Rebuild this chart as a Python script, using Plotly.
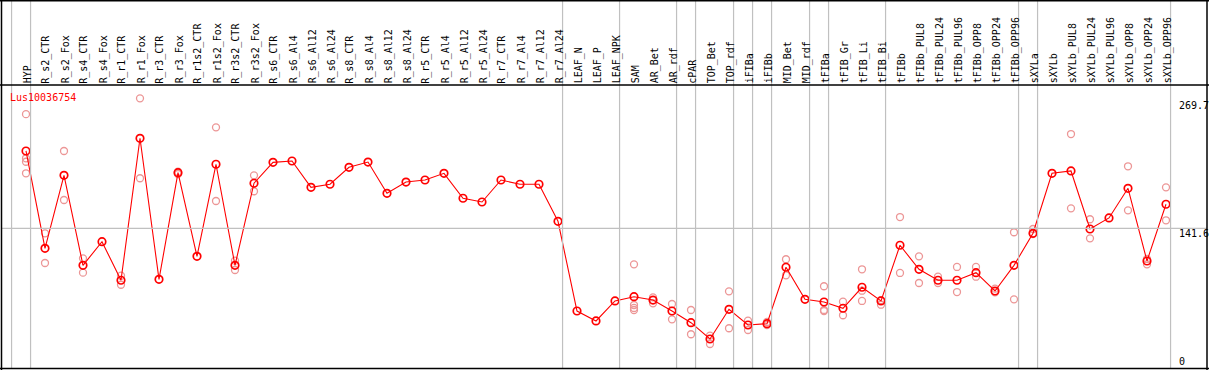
import plotly.graph_objects as go

W, H = 1209, 370

gene_id = "Lus10036754"

categories = [
    "HYP", "R_s2_CTR", "R_s2_Fox", "R_s4_CTR", "R_s4_Fox", "R_r1_CTR", "R_r1_Fox",
    "R_r3_CTR", "R_r3_Fox", "R_r1s2_CTR", "R_r1s2_Fox", "R_r3s2_CTR", "R_r3s2_Fox",
    "R_s6_CTR", "R_s6_Al4", "R_s6_Al12", "R_s6_Al24", "R_s8_CTR", "R_s8_Al4",
    "R_s8_Al12", "R_s8_Al24", "R_r5_CTR", "R_r5_Al4", "R_r5_Al12", "R_r5_Al24",
    "R_r7_CTR", "R_r7_Al4", "R_r7_Al12", "R_r7_Al24", "LEAF_N", "LEAF_P", "LEAF_NPK",
    "SAM", "AR_Bet", "AR_rdf", "cPAR", "TOP_Bet", "TOP_rdf", "iFIBa", "iFIBb",
    "MID_Bet", "MID_rdf", "tFIBa", "tFIB_Gr", "tFIB_Li", "tFIB_Bi", "tFIBb",
    "tFIBb_PUL8", "tFIBb_PUL24", "tFIBb_PUL96", "tFIBb_OPP8", "tFIBb_OPP24",
    "tFIBb_OPP96", "sXYLa", "sXYLb", "sXYLb_PUL8", "sXYLb_PUL24", "sXYLb_PUL96",
    "sXYLb_OPP8", "sXYLb_OPP24", "sXYLb_OPP96",
]

means = [
    217.8, 121.9, 193.8, 105.1, 128.4, 90.4, 230.3, 91.3, 196.4, 114.0, 204.7,
    105.1, 186.0, 206.6, 207.9, 182.0, 185.0, 201.7, 206.9, 176.1, 187.2, 189.2,
    195.8, 171.2, 167.5, 189.2, 185.0, 185.0, 148.5, 60.1, 50.3, 70.0, 74.2,
    70.9, 60.1, 48.6, 32.5, 61.8, 46.3, 47.6, 103.2, 71.6, 69.0, 62.8, 83.5,
    70.0, 124.9, 101.2, 90.4, 90.4, 97.9, 79.8, 105.1, 136.7, 195.8, 198.1,
    140.9, 151.8, 181.0, 109.4, 165.3,
]

replicates = [
    [254.1, 210.6, 207.2, 195.8], [136.7, 107.4], [217.8, 169.5], [112.0, 97.9],
    [], [94.9, 86.0], [269.7, 190.9], [], [197.4, 195.1], [], [241.1, 168.5],
    [109.7, 100.5], [193.8, 178.1], [], [], [], [], [], [], [], [], [], [], [],
    [], [], [], [], [], [], [], [], [106.1, 66.0, 63.1, 61.1], [73.6, 67.7],
    [67.0, 51.9], [61.1, 37.2], [35.8, 27.6], [79.5, 43.1], [50.6, 41.4],
    [49.3, 46.3], [111.1, 95.3], [], [84.5, 61.1, 60.1], [69.3, 55.9],
    [101.2, 80.1, 70.0], [70.9, 66.3], [152.7, 97.6], [114.0, 87.7], [93.9, 87.7],
    [103.5, 78.8], [103.5, 93.9], [82.1, 78.5], [137.7, 71.6], [140.9, 136.0],
    [], [234.5, 161.3], [150.5, 131.7], [], [202.7, 159.3], [111.4, 106.1],
    [182.0, 149.5],
]

ytick_vals = [269.7, 141.6, 0]
ytick_text = ["269.7", "141.6", "0"]
ref_line = 141.6
group_ends = [-1, 0, 28, 31, 34, 35, 37, 38, 39, 41, 42, 45, 52, 53, 60]

# ---- geometry (pixels) ----
PLOT_L, PLOT_R = 1.5, 1207.0
PLOT_T, PLOT_B = 85.0, 368.5
COL0, COLSTEP = 26.0, 19.0
Y0PX, YSCALE = 372.0, 1.0148


def px_x(p):
    return p / W


def px_y(p):
    return 1 - p / H


x_range = [(PLOT_L - COL0) / COLSTEP, (PLOT_R - COL0) / COLSTEP]
y_range = [(Y0PX - PLOT_B) / YSCALE, (Y0PX - PLOT_T) / YSCALE]

FONT = "DejaVu Sans Mono"
GRID = "rgb(192,192,192)"
RED = "rgb(255,0,0)"
PINK = "rgb(236,150,150)"

rx, ry = [], []
for i, reps in enumerate(replicates):
    for v in reps:
        rx.append(i)
        ry.append(v)

fig = go.Figure()
fig.add_trace(go.Scatter(
    x=rx, y=ry, mode="markers", hoverinfo="skip", cliponaxis=False,
    marker=dict(symbol="circle-open", size=7, color=PINK, line=dict(width=1.3)),
))
fig.add_trace(go.Scatter(
    x=list(range(len(categories))), y=means, mode="lines+markers", cliponaxis=False,
    line=dict(color=RED, width=1.1),
    marker=dict(symbol="circle-open", size=7.5, color=RED, line=dict(width=1.7)),
))

shapes = []
# vertical group separators
for g in group_ends:
    shapes.append(dict(type="line", xref="x", yref="paper",
                       x0=g + 0.24, x1=g + 0.24, y0=px_y(PLOT_B), y1=1,
                       line=dict(color=GRID, width=1.2)))
# reference horizontal line
shapes.append(dict(type="line", xref="paper", yref="y",
                   x0=px_x(PLOT_L), x1=px_x(PLOT_R), y0=ref_line, y1=ref_line,
                   line=dict(color=GRID, width=1.2)))
# frame
frame = dict(color="black", width=1.5)
shapes.append(dict(type="line", xref="paper", yref="paper", x0=0, x1=1,
                   y0=px_y(PLOT_T), y1=px_y(PLOT_T), line=frame))
shapes.append(dict(type="line", xref="paper", yref="paper", x0=0, x1=1,
                   y0=px_y(0.75), y1=px_y(0.75), line=frame))
shapes.append(dict(type="line", xref="paper", yref="paper", x0=0, x1=1,
                   y0=px_y(PLOT_B), y1=px_y(PLOT_B), line=frame))
shapes.append(dict(type="line", xref="paper", yref="paper", x0=px_x(PLOT_L), x1=px_x(PLOT_L),
                   y0=0, y1=1, line=frame))
shapes.append(dict(type="line", xref="paper", yref="paper", x0=px_x(PLOT_R), x1=px_x(PLOT_R),
                   y0=0, y1=1, line=frame))

annotations = []
for i, c in enumerate(categories):
    annotations.append(dict(
        text=c, x=i, xref="x", y=px_y(84.8), yref="paper", xshift=1.5,
        xanchor="center", yanchor="bottom", textangle=-90, showarrow=False,
        font=dict(family=FONT, size=10, color="black"), borderpad=0,
    ))
annotations.append(dict(
    text=gene_id, x=px_x(7.5), xref="paper", y=px_y(97.2), yref="paper",
    xanchor="left", yanchor="middle", showarrow=False,
    font=dict(family=FONT, size=10, color=RED),
))
ylab_centers = [106.0, 233.0, 361.8]
for t, cy in zip(ytick_text, ylab_centers):
    annotations.append(dict(
        text=t, x=px_x(1176.5), xref="paper", y=px_y(cy), yref="paper",
        xanchor="left", yanchor="middle", showarrow=False,
        font=dict(family=FONT, size=10, color="black"),
    ))

fig.update_layout(
    width=W, height=H, margin=dict(l=0, r=0, t=0, b=0),
    paper_bgcolor="white", plot_bgcolor="white", showlegend=False,
    xaxis=dict(domain=[px_x(PLOT_L), px_x(PLOT_R)], range=x_range, visible=False,
               showgrid=False, zeroline=False, fixedrange=True),
    yaxis=dict(domain=[px_y(PLOT_B), px_y(PLOT_T)], range=y_range, visible=False,
               showgrid=False, zeroline=False, fixedrange=True),
    shapes=shapes, annotations=annotations,
)

fig.write_html(
    "out.html",
    config={"displayModeBar": False},
    post_script="document.body.style.margin='0';document.body.style.overflow='hidden';",
)
